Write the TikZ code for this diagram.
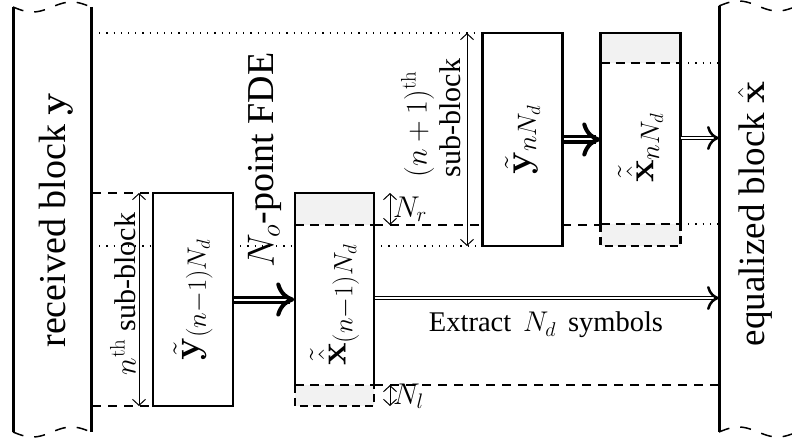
\RequirePackage{fix-cm}
\documentclass[tikz,border=0pt]{standalone}
\usepackage[no-math]{fontspec}
\setmainfont{Liberation Serif}
\usetikzlibrary{arrows.meta,calc}
\newcommand\fontBig{\fontsize{38}{44}\selectfont}
\newcommand\fontEq{\fontsize{37}{43}\selectfont}
\newcommand\fontMid{\fontsize{30}{34}\selectfont}
\newcommand\fontSmall{\fontsize{28.5}{32}\selectfont}
\begin{document}
\begin{tikzpicture}[x=1pt,y=-1pt,
  brk/.style={line width=3pt},
  wave/.style={line width=1.5pt, dash pattern=on 11pt off 11pt},
  boxline/.style={line width=2.8pt},
  blk/.style={draw, line width=2.8pt, minimum width=80pt, minimum height=213pt, inner sep=0pt},
  blkx/.style={minimum width=80pt, minimum height=213pt, inner sep=0pt},
  dsh/.style={line width=1.5pt, dash pattern=on 9pt off 7pt},
  dsheavy/.style={line width=2pt, dash pattern=on 9pt off 6pt},
  dot/.style={line width=1.2pt, dash pattern=on 1.2pt off 6pt},
  thickdbl/.style={double, line width=3pt, double distance=2pt},
  thindbl/.style={double, line width=1.3pt, double distance=2pt},
  dim/.style={line width=1pt, {Straight Barb[length=6pt,width=13pt]}-{Straight Barb[length=6pt,width=13pt]}},
  lbl/.style={rotate=90, inner sep=0pt}
]
\useasboundingbox (0,0) rectangle (792,441);

% ---------- left bracket (received block)
\draw[brk] (13,7) -- (13,432);
\draw[brk] (91,7) -- (91,432);
\draw[wave] plot[domain=13:91, samples=50] (\x, {7+5*sin(4.6154*(\x-13))});
\draw[wave] plot[domain=13:91, samples=50] (\x, {432+5*sin(4.6154*(\x-13))});
\node[lbl, font=\fontBig] (rx) at (56,220) {received block $\mathbf{y}$};

% ---------- right bracket (equalized block)
\draw[brk] (719,6) -- (719,432);
\draw[wave] plot[domain=719:792, samples=50] (\x, {6-5*sin(4.6154*(\x-719))});
\draw[wave] plot[domain=719:792, samples=50] (\x, {432-5*sin(4.6154*(\x-719))});
\node[lbl, font=\fontEq] (ex) at (755,214) {equalized block $\hat{\mathbf{x}}$};

% ---------- guide lines
\draw[dot] (92,33) -- (483,33);
\draw[dsh] (92,193) -- (153,193);
\draw[dot] (92,246) -- (153,246);
\draw[dot] (233,246) -- (295,246);
\draw[dot] (374,246) -- (483,246);
\draw[dsh] (92,406) -- (153,406);
\draw[dsh] (374,225) -- (483,225);
\draw[dsh] (562,225) -- (600,225);
\draw[dsh] (374,385) -- (719,385);
\draw[dot] (681,63) -- (719,63);
\draw[dot] (681,224) -- (719,224);

% ---------- block y_{(n-1)N_d}
\node[blk] (y1) at (193,299.5) {};
\node[lbl, font=\fontBig] (y1l) at (y1.center) {$\tilde{\mathbf{y}}_{(n-1)N_d}$};

% ---------- block x_{(n-1)N_d}
\fill[gray!10] (295,193) rectangle (374,406);
\fill[white] (295,225) rectangle (374,385);
\draw[boxline] (295,385) -- (295,193) -- (374,193) -- (374,385);
\draw[boxline, dash pattern=on 8pt off 5pt] (295,385) -- (295,406) -- (374,406) -- (374,385);
\draw[dsheavy] (295,225) -- (374,225);
\draw[dsheavy] (295,385) -- (374,385);
\node[blkx] (x1) at (334.5,299.5) {};
\node[lbl, font=\fontBig] (x1l) at (334.5,305) {$\tilde{\hat{\mathbf{x}}}_{(n-1)N_d}$};

% ---------- block y_{nN_d}
\node[blk] (y2) at (522.5,139.5) {};
\node[lbl, font=\fontBig] (y2l) at (y2.center) {$\tilde{\mathbf{y}}_{nN_d}$};

% ---------- block x_{nN_d}
\fill[gray!10] (600.5,33) rectangle (680.5,246);
\fill[white] (600.5,63) rectangle (680.5,224);
\draw[boxline] (600.5,224) -- (600.5,33) -- (680.5,33) -- (680.5,224);
\draw[boxline, dash pattern=on 8pt off 5pt] (600.5,224) -- (600.5,246) -- (680.5,246) -- (680.5,224);
\draw[dsheavy] (600.5,63) -- (680.5,63);
\draw[dsheavy] (600.5,224) -- (680.5,224);
\node[blkx] (x2) at (640.5,139.5) {};
\node[lbl, font=\fontBig] (x2l) at (640.5,148) {$\tilde{\hat{\mathbf{x}}}_{nN_d}$};

% ---------- thick FDE arrows
\draw[thickdbl, shorten >=4pt] (y1.east) -- (x1.west);
\draw[line width=4pt, -{Computer Modern Rightarrow[length=18pt,width=34pt]}] ($(x1.west)+(-5,0)$) -- (x1.west);
\draw[thickdbl, shorten >=4pt] (y2.east) -- (x2.west);
\draw[line width=4pt, -{Computer Modern Rightarrow[length=18pt,width=34pt]}] ($(x2.west)+(-5,0)$) -- (x2.west);

% ---------- output arrows
\coordinate (e1) at (719,298);
\coordinate (e2) at (719,138);
\draw[thindbl, shorten >=3pt] (x1.east |- e1) -- (e1);
\draw[line width=2.5pt, -{Computer Modern Rightarrow[length=12pt,width=24pt]}] ($(e1)+(-4,0)$) -- (e1);
\draw[thindbl, shorten >=3pt] (x2.east |- e2) -- (e2);
\draw[line width=2.5pt, -{Computer Modern Rightarrow[length=12pt,width=24pt]}] ($(e2)+(-4,0)$) -- (e2);

% ---------- dimension arrows
\coordinate (d1a) at (139,193); \coordinate (d1b) at (139,406);
\draw[dim] (d1a) -- (d1b);
\node[lbl, font=\fontMid] (d1l) at (123,294) {$n^{\mathrm{th}}$ sub-block};

\coordinate (d2a) at (467,33); \coordinate (d2b) at (467,246);
\draw[dim] (d2a) -- (d2b);
\node[lbl, font=\fontMid, align=left] (d2l) at (431,118) {$(n+1)^{\mathrm{th}}$\\sub-block};

\coordinate (nra) at (390,193); \coordinate (nrb) at (390,225);
\draw[dim] (nra) -- (nrb);
\node[anchor=west, inner sep=0pt, font=\fontMid] (nrl) at (393,209) {$N_r$};

\coordinate (nla) at (390,385); \coordinate (nlb) at (390,406);
\draw[dim] (nla) -- (nlb);
\node[anchor=west, inner sep=0pt, font=\fontMid] (nll) at (393,396) {$N_l$};

% ---------- other labels
\node[lbl, font=\fontBig] (fde) at (265,160) {$N_o$-point FDE};
\node[inner sep=0pt, font=\fontSmall] (ext) at (546,325) {Extract \,$N_d$\, symbols};
\end{tikzpicture}
\end{document}
